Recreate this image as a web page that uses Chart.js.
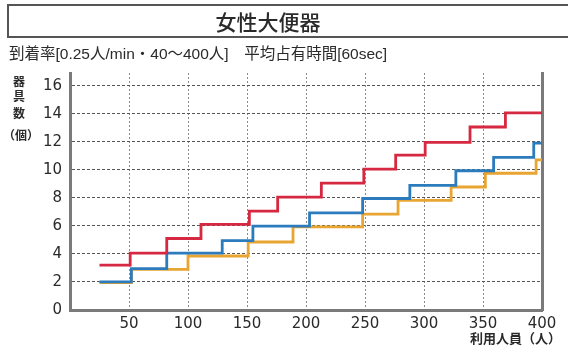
<!DOCTYPE html>
<html lang="ja">
<head>
<meta charset="utf-8">
<title>女性大便器</title>
<script src="https://cdn.jsdelivr.net/npm/chart.js@4/dist/chart.umd.min.js"></script>
<style>
  html, body { margin: 0; padding: 0; background: #fff; }
  #wrap { width: 568px; height: 354px; }
</style>
</head>
<body>
<div id="wrap"><canvas id="c" width="568" height="354"></canvas></div>
<script>
// Step curves: each level holds from its start x until the next start x.
const redStartX   = [25, 51, 82, 111, 152, 176, 213, 249, 276, 301, 339, 369, 400];
const redLevels   = [3.2, 4.05, 5.1, 6.1, 7.05, 8.05, 9.05, 10.05, 11.05, 11.95, 13.05, 14.05, 14.05];
const blueStartX  = [25, 52, 82, 129, 155, 203, 248, 288, 327, 359, 393, 400];
const blueLevels  = [2, 2.95, 4.05, 4.95, 5.98, 6.92, 7.95, 8.88, 9.93, 10.88, 11.9, 11.9];
const orangeStartX = [25, 52, 100, 151, 189, 248, 278, 323, 352, 395, 400];
const orangeLevels = [1.95, 2.9, 3.85, 4.85, 5.93, 6.83, 7.82, 8.77, 9.75, 10.7, 10.7];

const xTicks = [0, 50, 100, 150, 200, 250, 300, 350, 400];
const yTicks = [0, 2, 4, 6, 8, 10, 12, 14, 16];

const titleText = '女性大便器';
const subtitleText = '到着率[0.25人/min・40～400人]　平均占有時間[60sec]';
const yAxisChars = ['器', '具', '数', '（個）'];
const xAxisText = '利用人員（人）';

const toPoints = (xs, ys) => xs.map((x, i) => ({ x: x, y: ys[i] }));

const AXIS_COLOR = '#7a7a7a';
const TEXT_COLOR = '#2a2a2a';
const CJK = '"Liberation Sans", "Noto Sans CJK JP", sans-serif';

const decorations = {
  id: 'decorations',
  beforeDraw(chart) {
    const ctx = chart.ctx;
    ctx.save();
    ctx.fillStyle = '#ffffff';
    ctx.fillRect(0, 0, chart.width, chart.height);

    // boxed heading
    ctx.strokeStyle = '#555';
    ctx.lineWidth = 2;
    ctx.strokeRect(8, 5, 580, 32);
    ctx.fillStyle = TEXT_COLOR;
    ctx.font = '500 21px "Noto Sans CJK JP", sans-serif';
    ctx.textAlign = 'center';
    ctx.textBaseline = 'middle';
    ctx.fillText(titleText, 268, 22);

    // conditions line
    ctx.font = '15.5px ' + CJK;
    ctx.textAlign = 'left';
    ctx.fillText(subtitleText, 9, 55);

    // vertical axis caption
    ctx.font = 'bold 12px "Noto Sans CJK JP", sans-serif';
    ctx.textAlign = 'center';
    const ys = [81, 96, 113, 135];
    yAxisChars.forEach((ch, i) => ctx.fillText(ch, i === 3 ? 21 : 19, ys[i]));

    // horizontal axis caption
    ctx.textAlign = 'right';
    ctx.font = 'bold 13px "Noto Sans CJK JP", sans-serif';
    ctx.fillText(xAxisText, 561, 338);
    ctx.restore();
  }
};

const lineStyle = (color) => ({
  borderColor: color,
  backgroundColor: color,
  borderWidth: 2.8,
  pointRadius: 0,
  showLine: true,
  stepped: true,
  fill: false,
  clip: 4
});

new Chart(document.getElementById('c'), {
  type: 'scatter',
  data: {
    datasets: [
      Object.assign({ label: 'red', data: toPoints(redStartX, redLevels) }, lineStyle('#d62840')),
      Object.assign({ label: 'blue', data: toPoints(blueStartX, blueLevels) }, lineStyle('#2b7bbd')),
      Object.assign({ label: 'orange', data: toPoints(orangeStartX, orangeLevels) }, lineStyle('#e9a531'))
    ]
  },
  options: {
    responsive: false,
    animation: false,
    devicePixelRatio: 1,
    layout: { padding: { top: 73, right: 26, left: 0, bottom: 0 } },
    plugins: { legend: { display: false }, tooltip: { enabled: false }, title: { display: false } },
    scales: {
      x: {
        type: 'linear',
        min: 0,
        max: 400,
        afterBuildTicks: (s) => { s.ticks = xTicks.map(v => ({ value: v })); },
        afterFit: (s) => { s.height = 44; },
        ticks: {
          autoSkip: false,
          maxRotation: 0,
          padding: 5,
          color: TEXT_COLOR,
          font: { family: '"DejaVu Sans"', size: 15 },
          callback: (v) => (v === 0 ? '' : String(v))
        },
        grid: { color: '#8a8a8a', lineWidth: 1, drawTicks: false },
        border: { display: true, color: AXIS_COLOR, width: 3, dash: [2, 2] }
      },
      y: {
        type: 'linear',
        min: 0,
        max: 16.9,
        afterBuildTicks: (s) => { s.ticks = yTicks.map(v => ({ value: v })); },
        afterFit: (s) => { s.width = 70; },
        ticks: {
          padding: 8,
          color: TEXT_COLOR,
          font: { family: '"DejaVu Sans"', size: 15 }
        },
        grid: { color: '#555555', lineWidth: 1, drawTicks: false },
        border: { display: true, color: AXIS_COLOR, width: 3, dash: [3, 2] }
      },
      yRight: {
        type: 'linear',
        position: 'right',
        min: 0,
        max: 16.9,
        afterFit: (s) => { s.width = 0; },
        ticks: { display: false },
        grid: { display: false, drawTicks: false },
        border: { display: true, color: AXIS_COLOR, width: 3 }
      }
    }
  },
  plugins: [decorations]
});
</script>
</body>
</html>
